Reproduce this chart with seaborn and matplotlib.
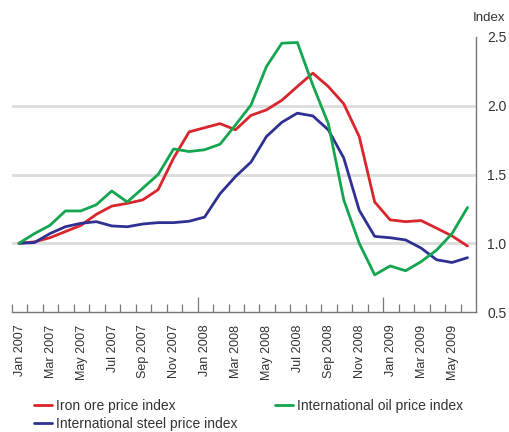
import numpy as np
import pandas as pd
import matplotlib
matplotlib.use("Agg")
import matplotlib.pyplot as plt
import seaborn as sns

months = ["Jan 2007", "Feb 2007", "Mar 2007", "Apr 2007", "May 2007", "Jun 2007",
          "Jul 2007", "Aug 2007", "Sep 2007", "Oct 2007", "Nov 2007", "Dec 2007",
          "Jan 2008", "Feb 2008", "Mar 2008", "Apr 2008", "May 2008", "Jun 2008",
          "Jul 2008", "Aug 2008", "Sep 2008", "Oct 2008", "Nov 2008", "Dec 2008",
          "Jan 2009", "Feb 2009", "Mar 2009", "Apr 2009", "May 2009", "Jun 2009"]

iron_ore = [1.00, 1.01, 1.04, 1.085, 1.13, 1.21, 1.27, 1.29, 1.315, 1.39,
            1.62, 1.81, 1.84, 1.87, 1.825, 1.93, 1.97, 2.04, 2.14, 2.237,
            2.14, 2.014, 1.776, 1.30, 1.17, 1.157, 1.165, 1.11, 1.053, 0.98]
oil = [1.00, 1.07, 1.13, 1.235, 1.235, 1.28, 1.38, 1.30, 1.40, 1.50,
       1.686, 1.667, 1.68, 1.72, 1.86, 2.005, 2.285, 2.455, 2.46, 2.15,
       1.87, 1.315, 1.00, 0.77, 0.835, 0.80, 0.866, 0.95, 1.07, 1.26]
steel = [1.00, 1.005, 1.07, 1.12, 1.145, 1.157, 1.126, 1.12, 1.14, 1.15,
         1.15, 1.16, 1.19, 1.36, 1.485, 1.59, 1.776, 1.88, 1.946, 1.926,
         1.825, 1.62, 1.24, 1.05, 1.04, 1.024, 0.965, 0.88, 0.86, 0.895]

series_names = ["Iron ore price index", "International steel price index",
                "International oil price index"]
colors = {"Iron ore price index": "#d9262c",
          "International steel price index": "#2e3192",
          "International oil price index": "#13a54f"}

pos = np.arange(len(months)) + 0.45
df = pd.concat([
    pd.DataFrame({"pos": pos, "value": iron_ore, "series": series_names[0]}),
    pd.DataFrame({"pos": pos, "value": steel, "series": series_names[1]}),
    pd.DataFrame({"pos": pos, "value": oil, "series": series_names[2]}),
])

sns.set_style("white")
plt.rcParams["font.family"] = ["Liberation Sans", "DejaVu Sans"]

fig = plt.figure(figsize=(5.09, 4.32), dpi=100)
ax = fig.add_axes([12 / 509, 1 - 312 / 432, (476 - 12) / 509, (312 - 37) / 432])

for y in [1.0, 1.5, 2.0]:
    ax.axhline(y, color="#dcdcdc", lw=2.0, zorder=0)

sns.lineplot(data=df, x="pos", y="value", hue="series", hue_order=series_names,
             palette=colors, lw=2.0, ax=ax, legend=True)

ax.set_xlim(0, 30)
ax.set_ylim(0.5, 2.5)
ax.set_xlabel("")
ax.set_ylabel("")

for s in ["left", "top"]:
    ax.spines[s].set_visible(False)
for s in ["bottom", "right"]:
    ax.spines[s].set_color("#777777")
    ax.spines[s].set_linewidth(1.0)

ax.yaxis.tick_right()
ax.set_yticks([0.5, 1.0, 1.5, 2.0, 2.5])
ax.set_yticklabels(["0.5", "1.0", "1.5", "2.0", "2.5"])
ax.tick_params(axis="y", length=0, pad=8, labelsize=10, labelcolor="#333333")

# labels centred on the months (mid-month), tick marks on month boundaries
label_idx = list(range(0, 30, 2))
ax.set_xticks([i + 0.5 for i in label_idx])
ax.set_xticklabels([months[i] for i in label_idx], rotation=90)
ax.tick_params(axis="x", which="major", length=0, labelsize=9,
               labelcolor="#333333", pad=9)
ax.set_xticks(list(range(0, 30)), minor=True)
ax.tick_params(axis="x", which="minor", direction="in", length=6, width=0.9,
               color="#777777", bottom=True)
for i, t in enumerate(ax.xaxis.get_minor_ticks()):
    t.tick1line.set_markersize(11 if i in (12, 24) else 6)

fig.text(489 / 509, 1 - 18 / 432, "Index", ha="center", va="center",
         fontsize=9.5, color="#333333")

handles, labels = ax.get_legend_handles_labels()
ax.legend(handles, labels, loc="upper left", bbox_to_anchor=(0.035, -0.295),
          ncol=2, frameon=False, fontsize=10, handlelength=1.3,
          handletextpad=0.3, columnspacing=2.7, labelspacing=0.3,
          borderaxespad=0, labelcolor="#333333")

fig.savefig("out.png", dpi=100)
